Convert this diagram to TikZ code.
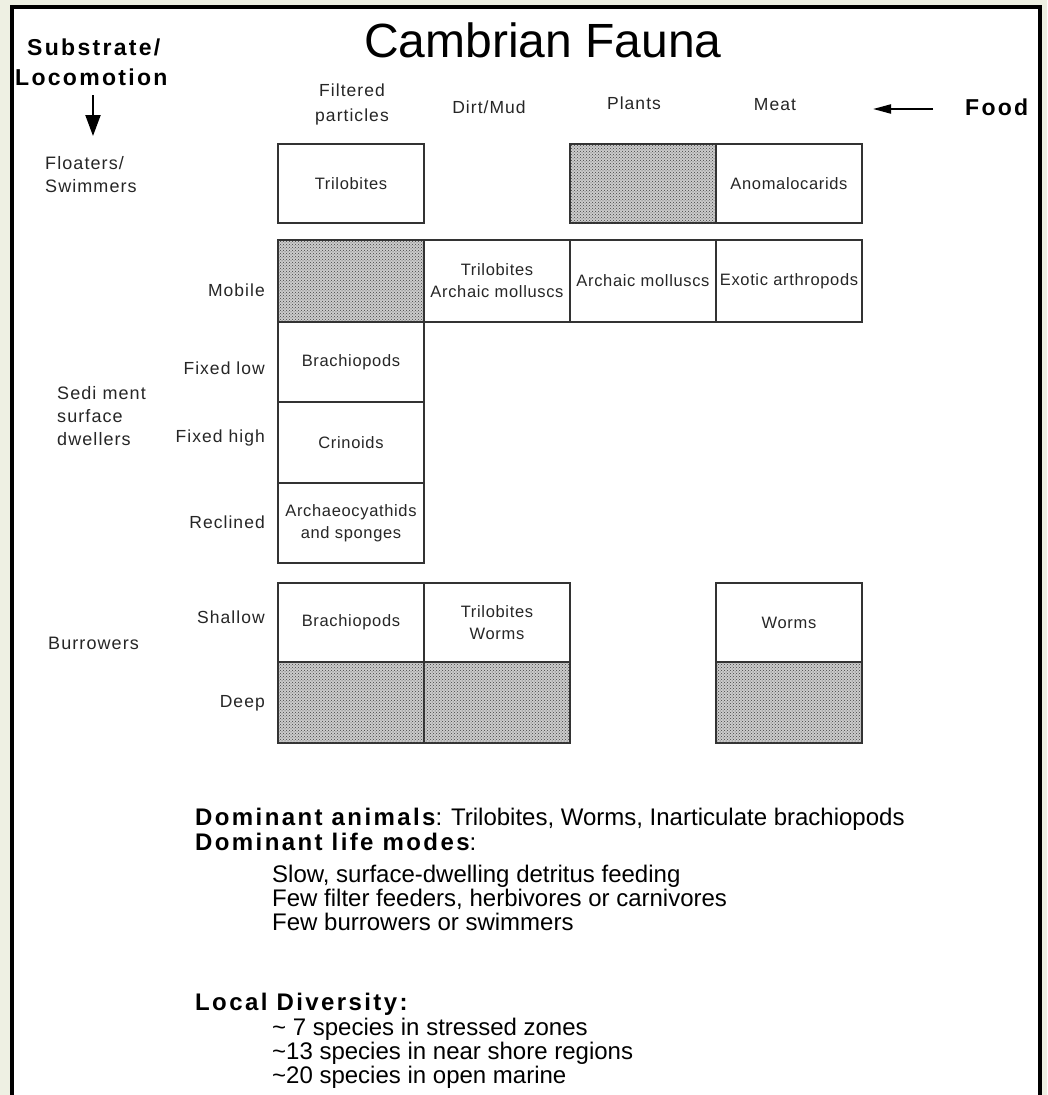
\documentclass[tikz,border=0pt]{standalone}
\usepackage{fontspec}
\setmainfont{Liberation Sans}
\newfontfamily\spaced[LetterSpace=4]{Liberation Sans}
\newfontfamily\labspaced[LetterSpace=6]{Liberation Sans}
\newfontfamily\wide[LetterSpace=10]{Liberation Sans}
\newcommand{\bw}[1]{{\wide\bfseries #1}}
\usetikzlibrary{arrows.meta,patterns}
\definecolor{outerbg}{HTML}{EEF0E3}
\definecolor{boxline}{HTML}{333333}
\tikzset{
  cell/.style={draw=boxline, line width=2pt, minimum width=146pt, inner sep=0pt,
    anchor=north west, align=center, text=black!85,
    font=\spaced\fontsize{16.5}{22}\selectfont},
  stipple/.style={cell, fill=gray!40, postaction={pattern=crosshatch dots, pattern color=black!75}},
  rowlab/.style={anchor=east, inner sep=0pt, text=black!85, font=\labspaced\fontsize{17.5}{23}\selectfont},
  grouplab/.style={anchor=west, inner sep=0pt, align=left, text=black!85, font=\labspaced\fontsize{18}{23}\selectfont},
  headlab/.style={inner sep=0pt, align=center, text=black!85, font=\labspaced\fontsize{17.5}{25}\selectfont},
  boldlab/.style={anchor=west, inner sep=0pt, font=\wide\bfseries\fontsize{23}{30}\selectfont},
  bodytext/.style={anchor=base west, inner sep=0pt, font=\fontsize{24}{24}\selectfont},
  arr/.style={line width=2pt, -{Triangle[length=21pt,width=15pt]}}
}
\begin{document}
\begin{tikzpicture}[x=1pt,y=-1pt]
\useasboundingbox (0,0) rectangle (1047,1095);
\fill[outerbg] (0,0) rectangle (1047,1095);
\fill[white] (12,7) rectangle (1040,1095);
\draw[line width=4pt] (12,1097) -- (12,7) -- (1040,7) -- (1040,1097);

% title and axis labels
\node[inner sep=0pt, font=\fontsize{48}{52}\selectfont] (title) at (543,40) {Cambrian Fauna};
\node[boldlab] (substrate) at (27,47) {Substrate/};
\node[boldlab] (locomotion) at (15,77) {Locomotion};
\coordinate (vtail) at (93,95);
\coordinate (vtip) at (93,136);
\draw[arr] (vtail) -- (vtip);
\node[boldlab] (food) at (965,107) {Food};
\coordinate (ftail) at (933,109);
\coordinate (ftip) at (873,109);
\draw[arr, -{Triangle[length=18pt,width=9pt]}] (ftail) -- (ftip);

% column headers
\node[headlab] (hfilter) at (352,104) {Filtered\\particles};
\node[headlab] (hdirt) at (489,107) {Dirt/Mud};
\node[headlab] (hplants) at (634,103) {Plants};
\node[headlab] (hmeat) at (775,105) {Meat};

% row / group labels
\node[grouplab] (gfloat) at (45,175) {Floaters/\\Swimmers};
\node[grouplab] (gsed) at (57,416) {Sedi ment\\surface\\dwellers};
\node[grouplab] (gburrow) at (48,643) {Burrowers};
\node[rowlab] (rmobile) at (265,290) {Mobile};
\node[rowlab] (rfixlow) at (265,368) {Fixed low};
\node[rowlab] (rfixhigh) at (265,438) {Fixed high};
\node[rowlab] (rreclined) at (265,522) {Reclined};
\node[rowlab] (rshallow) at (265,617) {Shallow};
\node[rowlab] (rdeep) at (265,703) {Deep};

% floaters row
\node[cell, minimum height=79pt] (f1) at (277,143) {Trilobites};
\node[stipple, minimum height=79pt] (f3) at (569,143) {};
\node[cell, minimum height=79pt] (f4) at (715,143) {Anomalocarids};
% mobile row
\node[stipple, minimum height=82pt] (m1) at (277,239) {};
\node[cell, minimum height=82pt] (m2) at (423,239) {Trilobites\\Archaic molluscs};
\node[cell, minimum height=82pt] (m3) at (569,239) {Archaic molluscs};
\node[cell, minimum height=82pt] (m4) at (715,239) {Exotic arthropods};
% fixed / reclined
\node[cell, minimum height=80pt] (fl1) at (277,321) {Brachiopods};
\node[cell, minimum height=81pt] (fh1) at (277,401) {Crinoids};
\node[cell, minimum height=80pt] (rc1) at (277,482) {Archaeocyathids\\and sponges};
% burrowers
\node[cell, minimum height=79pt] (s1) at (277,582) {Brachiopods};
\node[cell, minimum height=79pt] (s2) at (423,582) {Trilobites\\Worms};
\node[cell, minimum height=79pt] (s4) at (715,582) {Worms};
\node[stipple, minimum height=81pt] (d1) at (277,661) {};
\node[stipple, minimum height=81pt] (d2) at (423,661) {};
\node[stipple, minimum height=81pt] (d4) at (715,661) {};

% summary text
\node[bodytext] (t1) at (195,825) {\bw{Dominant animals}: Trilobites, Worms, Inarticulate brachiopods};
\node[bodytext] (t2) at (195,850) {\bw{Dominant life modes}:};
\node[bodytext] (t3) at (272,882) {Slow, surface-dwelling detritus feeding};
\node[bodytext] (t4) at (272,906) {Few filter feeders, herbivores or carnivores};
\node[bodytext] (t5) at (272,930) {Few burrowers or swimmers};
\node[bodytext] (t6) at (195,1010) {\bw{Local Diversity:}};
\node[bodytext] (t7) at (272,1035) {\textasciitilde\ 7 species in stressed zones};
\node[bodytext] (t8) at (272,1059) {\textasciitilde 13 species in near shore regions};
\node[bodytext] (t9) at (272,1083) {\textasciitilde 20 species in open marine};
\end{tikzpicture}
\end{document}
